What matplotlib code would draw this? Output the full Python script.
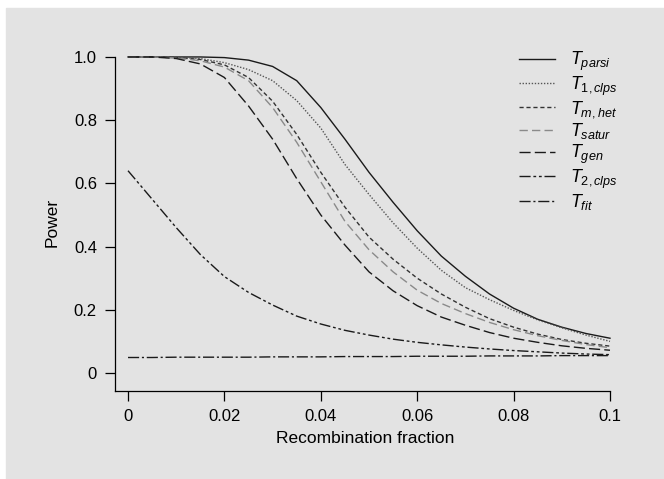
import matplotlib
matplotlib.use("Agg")
import matplotlib.pyplot as plt
from matplotlib.patches import Rectangle

plt.rcParams['font.family'] = ['Liberation Sans', 'DejaVu Sans']
plt.rcParams['mathtext.fontset'] = 'custom'
plt.rcParams['mathtext.it'] = 'Liberation Sans:italic'
plt.rcParams['mathtext.rm'] = 'Liberation Sans'

# recombination fraction grid
r = [0, 0.005, 0.01, 0.015, 0.02, 0.025, 0.03, 0.035, 0.04, 0.045, 0.05,
     0.055, 0.06, 0.065, 0.07, 0.075, 0.08, 0.085, 0.09, 0.095, 0.1]

t_parsi = [1, 1, 1, 1, 0.998, 0.99, 0.97, 0.925, 0.84, 0.74, 0.635,
           0.54, 0.45, 0.37, 0.306, 0.25, 0.205, 0.17, 0.145, 0.125, 0.11]
t_1clps = [1, 1, 1, 0.995, 0.982, 0.96, 0.925, 0.862, 0.775, 0.66, 0.565,
           0.475, 0.395, 0.325, 0.27, 0.232, 0.198, 0.168, 0.143, 0.12, 0.10]
t_mhet = [1, 1, 0.998, 0.992, 0.975, 0.935, 0.86, 0.755, 0.635, 0.525, 0.43,
          0.36, 0.30, 0.25, 0.208, 0.172, 0.145, 0.123, 0.106, 0.094, 0.085]
t_satur = [1, 1, 0.997, 0.988, 0.968, 0.925, 0.84, 0.73, 0.605, 0.48, 0.39,
           0.32, 0.262, 0.22, 0.188, 0.16, 0.137, 0.118, 0.103, 0.09, 0.08]
t_gen = [1, 1, 0.995, 0.978, 0.935, 0.845, 0.74, 0.615, 0.50, 0.405, 0.32,
         0.26, 0.213, 0.177, 0.151, 0.128, 0.11, 0.097, 0.086, 0.078, 0.072]
t_2clps = [0.64, 0.55, 0.46, 0.375, 0.305, 0.255, 0.215, 0.18, 0.155, 0.135, 0.12,
           0.107, 0.097, 0.089, 0.082, 0.076, 0.071, 0.067, 0.063, 0.06, 0.058]
t_fit = [0.049, 0.049, 0.05, 0.05, 0.05, 0.05, 0.051, 0.051, 0.051, 0.052, 0.052,
         0.052, 0.053, 0.053, 0.053, 0.054, 0.054, 0.054, 0.055, 0.055, 0.055]

labels = [r'$T_{parsi}$', r'$T_{1,clps}$', r'$T_{m,het}$', r'$T_{satur}$',
          r'$T_{gen}$', r'$T_{2,clps}$', r'$T_{fit}$']
xticks = [0, 0.02, 0.04, 0.06, 0.08, 0.1]
xticklabels = ['0', '0.02', '0.04', '0.06', '0.08', '0.1']
yticks = [0, 0.2, 0.4, 0.6, 0.8, 1.0]
yticklabels = ['0', '0.2', '0.4', '0.6', '0.8', '1.0']

series = [t_parsi, t_1clps, t_mhet, t_satur, t_gen, t_2clps, t_fit]
styles = [
    ('#1a1a1a', '-'),
    ('#555555', (0, (1, 1.2))),
    ('#333333', (0, (3, 2))),
    ('#8a8a8a', (0, (6, 3))),
    ('#1a1a1a', (0, (8, 3))),
    ('#1a1a1a', (0, (8, 2, 2, 2, 2, 2))),
    ('#1a1a1a', (0, (8, 2, 1.5, 2))),
]

fig = plt.figure(figsize=(6.64, 4.79), dpi=100, facecolor='white')
bg = Rectangle((6 / 664, 0), 1, (479 - 8) / 479, transform=fig.transFigure,
               color='#e3e3e3', zorder=-10)
fig.add_artist(bg)

ax = fig.add_axes([115 / 664, 88 / 479, 500 / 664, 337.2 / 479])
ax.set_facecolor('none')
ax.set_zorder(1)

for ys, (col, ls), lab in zip(series, styles, labels):
    ax.plot(r, ys, color=col, linestyle=ls, lw=1.0, label=lab, clip_on=False)

ax.set_xlim(-0.0027, 0.10104)
ax.set_ylim(-0.057, 1.01)
ax.spines['top'].set_visible(False)
ax.spines['right'].set_visible(False)
ax.spines['left'].set_bounds(-0.057, 1.0)
ax.spines['bottom'].set_bounds(-0.0027, 0.1)
ax.spines['left'].set_linewidth(0.9)
ax.spines['bottom'].set_linewidth(0.9)

ax.set_xticks(xticks)
ax.set_xticklabels(xticklabels)
ax.set_yticks(yticks)
ax.set_yticklabels(yticklabels)
ax.tick_params(direction='out', length=7, width=0.9, labelsize=12, pad=6)

ax.set_xlabel('Recombination fraction', fontsize=12.5, labelpad=5)
ax.set_ylabel('Power', fontsize=12.5, labelpad=10)

ax.legend(loc='upper left', bbox_to_anchor=(0.808, 1.012), frameon=False,
          fontsize=13, handlelength=2.0, handletextpad=0.85, labelspacing=0.08,
          borderaxespad=0, borderpad=0)

fig.savefig('out.png', dpi=100, facecolor='white')
